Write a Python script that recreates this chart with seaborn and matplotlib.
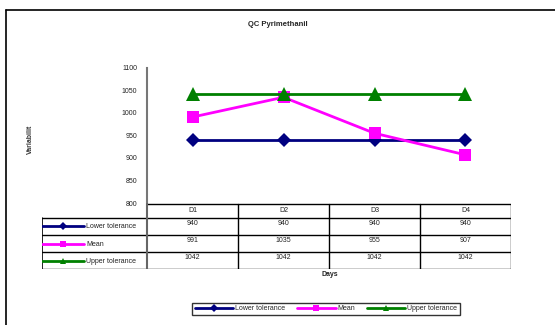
import matplotlib
matplotlib.use("Agg")
import matplotlib.pyplot as plt
import seaborn as sns
import pandas as pd
from matplotlib.lines import Line2D

days = ["D1", "D2", "D3", "D4"]
lower_tolerance = [940, 940, 940, 940]
mean_values = [991, 1035, 955, 907]
upper_tolerance = [1042, 1042, 1042, 1042]
series_names = ["Lower tolerance", "Mean", "Upper tolerance"]
y_ticks = [800, 850, 900, 950, 1000, 1050, 1100]

colors = {"Lower tolerance": "#000080", "Mean": "#ff00ff", "Upper tolerance": "#008000"}
markers = {"Lower tolerance": "D", "Mean": "s", "Upper tolerance": "^"}
msizes = {"Lower tolerance": 7.2, "Mean": 9, "Upper tolerance": 10}

df = pd.DataFrame({
    "Days": days * 3,
    "Value": lower_tolerance + mean_values + upper_tolerance,
    "Series": [s for s in series_names for _ in days],
})

sns.set_style("white")
plt.rcParams["font.family"] = ["Liberation Sans", "DejaVu Sans"]

W, H = 555, 325
fig = plt.figure(figsize=(W / 100, H / 100), dpi=100)

def fx(px):
    return px / W

def fy(py):
    return 1 - py / H

# outer frame
fig.add_artist(Line2D([fx(6), fx(6)], [fy(10), 0], color="black", lw=1.2))
fig.add_artist(Line2D([fx(6), 1], [fy(10), fy(10)], color="black", lw=1.2))

# main chart area
x0, x1, ytop, ybot = 147, 511, 68, 203
ax = fig.add_axes([fx(x0), fy(ybot), fx(x1 - x0), (ybot - ytop) / H])
for s in series_names:
    sub = df[df["Series"] == s]
    sns.lineplot(data=sub, x="Days", y="Value", ax=ax, color=colors[s],
                 marker=markers[s], markersize=msizes[s], markeredgewidth=0,
                 lw=2, legend=False, sort=False)
ax.set_xlim(-0.5, 3.5)
ax.set_ylim(800, 1100)
ax.set_yticks(y_ticks)
ax.set_yticklabels([str(t) for t in y_ticks], fontsize=5, color="#222222")
ax.set_xticks([])
ax.set_xlabel("")
ax.set_ylabel("")
for sp in ["top", "right", "bottom"]:
    ax.spines[sp].set_visible(False)
ax.spines["left"].set_color("#777777")
ax.spines["left"].set_linewidth(1.5)
ax.tick_params(axis="y", length=3, width=0.8, color="#333333", pad=4)

fig.text(0.5, fy(24), "QC Pyrimethanil", ha="center", va="center",
         fontsize=5.5, fontweight="bold")
fig.text(fx(30), fy(139), "Variabilit", ha="center", va="center",
         rotation=90, fontsize=5, fontweight="bold", color="#333333")

# data table below the chart
tl, th = 42, 269
tax = fig.add_axes([fx(tl), fy(th), fx(x1 - tl), (th - ybot) / H])
tax.set_xlim(tl, x1)
tax.set_ylim(th, ybot)
tax.axis("off")
row_edges = [203.5, 217.7, 235, 252.3, 269]
col_edges = [147 + 91 * i for i in range(5)]
lc = "black"
tax.plot([147, x1], [row_edges[0], row_edges[0]], color=lc, lw=1)
for r in row_edges[1:]:
    tax.plot([tl, x1], [r, r], color=lc, lw=1)
tax.plot([tl, tl], [row_edges[1], row_edges[-1]], color=lc, lw=1.2)
for i, c in enumerate(col_edges):
    tax.plot([c, c], [row_edges[0], row_edges[-1]],
             color="#666666" if i == 0 else lc, lw=1.5 if i == 0 else 1)

for i, d in enumerate(days):
    cx = (col_edges[i] + col_edges[i + 1]) / 2
    tax.text(cx, (row_edges[0] + row_edges[1]) / 2, d, ha="center", va="center",
             fontsize=5, color="#222222")

table_rows = [lower_tolerance, mean_values, upper_tolerance]
for r, (s, vals) in enumerate(zip(series_names, table_rows)):
    top, bot = row_edges[r + 1], row_edges[r + 2]
    cy = top + 5.5
    ly = (top + bot) / 2
    tax.plot([tl, tl + 42], [ly, ly], color=colors[s], lw=2)
    tax.plot([tl + 21], [ly], marker=markers[s], color=colors[s], markersize=4,
             markeredgewidth=0)
    tax.text(tl + 44, ly + 0.5, s, ha="left", va="center", fontsize=5, color="#222222")
    for i, v in enumerate(vals):
        cx = (col_edges[i] + col_edges[i + 1]) / 2
        tax.text(cx, cy, str(v), ha="center", va="center", fontsize=5, color="#222222")

fig.text(fx(330), fy(275), "Days", ha="center", va="center",
         fontsize=5, fontweight="bold", color="#222222")

# legend
handles = [Line2D([0], [0], color=colors[s], lw=2, marker=markers[s],
                  markersize=4, markeredgewidth=0) for s in series_names]
leg = fig.legend(handles, series_names, loc="center",
                 bbox_to_anchor=(fx(326), fy(309)), ncol=3, fontsize=5,
                 frameon=True, fancybox=False, edgecolor="black",
                 handlelength=5.5, handletextpad=0.2, columnspacing=1.8,
                 borderpad=0.4)
leg.get_frame().set_linewidth(1)

fig.savefig("out.png", dpi=100)
